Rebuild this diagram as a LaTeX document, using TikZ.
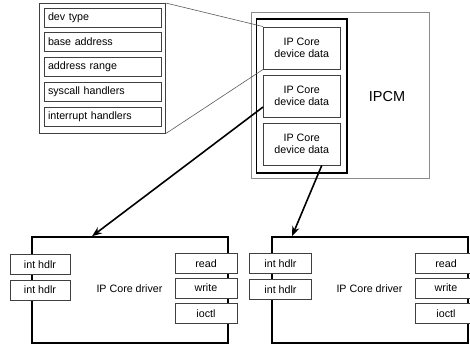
\documentclass[tikz,border=0pt]{standalone}
\usepackage{fontspec}
\setmainfont{Liberation Sans}
\usetikzlibrary{arrows.meta}
\definecolor{edgegray}{HTML}{404040}
\definecolor{framegray}{HTML}{8C8C8C}
\definecolor{linkgray}{HTML}{5A5A5A}
\begin{document}
\begin{tikzpicture}[x=1pt,y=-1pt,
  txt/.style={font=\fontsize{10.7}{12.5}\selectfont},
  field/.style={txt, draw=edgegray, line width=0.9pt, fill=white, inner sep=0pt,
    minimum width=117pt, minimum height=19pt, text width=109pt, align=left},
  plainbox/.style={draw=edgegray, line width=0.9pt, inner sep=0pt},
  ipbox/.style={txt, draw=edgegray, line width=0.9pt, fill=white, inner sep=0pt,
    minimum width=76.5pt, minimum height=42pt, align=center},
  port/.style={txt, draw=edgegray, line width=0.9pt, fill=white, inner sep=0pt,
    minimum height=20pt},
  driverbox/.style={draw=black, line width=1.5pt, inner sep=0pt,
    minimum width=196pt, minimum height=106pt},
  link/.style={draw=linkgray, line width=0.6pt},
  callarrow/.style={draw=black, line width=1.6pt, -{Stealth[length=10pt,width=7.5pt]}}]
\useasboundingbox (0,0) rectangle (470,345);

% device data structure
\node[plainbox, minimum width=126pt, minimum height=129.5pt] (struct) at (102.5,68.25) {};
\node[field] (f1) at (102.5,17.5) {dev type};
\node[field] (f2) at (102.5,42) {base address};
\node[field] (f3) at (102.5,67) {address range};
\node[field] (f4) at (102.5,91.5) {syscall handlers};
\node[field] (f5) at (102.5,116.5) {interrupt handlers};

% IPCM module
\node[draw=framegray, line width=0.8pt, inner sep=0pt, minimum width=177.5pt, minimum height=166pt] (ipcm) at (340.25,95) {};
\node[draw=black, line width=1.2pt, inner sep=0pt, minimum width=90.5pt, minimum height=154pt] (table) at (301.75,96) {};
\node[ipbox] (ip1) at (301.75,48) {IP Core\\device data};
\node[ipbox] (ip2) at (301.75,96) {IP Core\\device data};
\node[ipbox] (ip3) at (301.75,144) {IP Core\\device data};
\node[font=\fontsize{14.5}{16}\selectfont] (ipcmlabel) at (387,97) {IPCM};

% expansion of the first entry
\draw[link] (struct.north east) -- (ip1.north west);
\draw[link] (struct.south east) -- (ip1.south west);

% drivers
\node[driverbox] (drvL) at (130,290) {};
\node[txt] (drvLlabel) at (129.5,289) {IP Core driver};
\node[port, minimum width=60pt] (irqL1) at (40,264.5) {int hdlr};
\node[port, minimum width=60pt] (irqL2) at (40,290) {int hdlr};
\node[port, minimum width=62pt] (readL) at (206,263.5) {read};
\node[port, minimum width=62pt] (writeL) at (206,288) {write};
\node[port, minimum width=62pt] (ioctlL) at (206,313.5) {ioctl};

\node[driverbox] (drvR) at (370,290) {};
\node[txt] (drvRlabel) at (369.5,289) {IP Core driver};
\node[port, minimum width=62pt] (irqR1) at (280.5,263.5) {int hdlr};
\node[port, minimum width=62pt] (irqR2) at (280.5,289.5) {int hdlr};
\node[port, minimum width=62pt] (readR) at (446,263.5) {read};
\node[port, minimum width=62pt] (writeR) at (446,288) {write};
\node[port, minimum width=62pt] (ioctlR) at (446,313.5) {ioctl};

% bindings from device data to drivers
\coordinate (fromip2) at ([yshift=-11pt]ip2.west);
\coordinate (toL) at ([xshift=-38pt]drvL.north);
\coordinate (fromip3) at ([xshift=20pt]ip3.south);
\coordinate (toR) at ([xshift=-78pt]drvR.north);
\draw[callarrow] (fromip2) -- (toL);
\draw[callarrow] (fromip3) -- (toR);
\end{tikzpicture}
\end{document}
